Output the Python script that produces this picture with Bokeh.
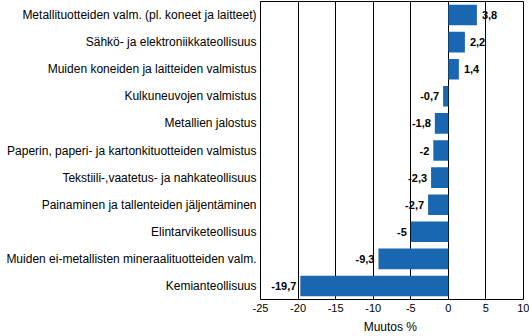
from bokeh.plotting import figure
from bokeh.models import ColumnDataSource, FactorRange, FixedTicker, Range1d
from bokeh.core.properties import value
from bokeh.embed import file_html
from bokeh.resources import INLINE

categories = [
    "Metallituotteiden valm. (pl. koneet ja laitteet)",
    "Sähkö- ja elektroniikkateollisuus",
    "Muiden koneiden ja laitteiden valmistus",
    "Kulkuneuvojen valmistus",
    "Metallien jalostus",
    "Paperin, paperi- ja kartonkituotteiden valmistus",
    "Tekstiili-,vaatetus- ja nahkateollisuus",
    "Painaminen ja tallenteiden jäljentäminen",
    "Elintarviketeollisuus",
    "Muiden ei-metallisten mineraalituotteiden valm.",
    "Kemianteollisuus",
]
values = [3.8, 2.2, 1.4, -0.7, -1.8, -2.0, -2.3, -2.7, -5.0, -9.3, -19.7]
x_ticks = [-25, -20, -15, -10, -5, 0, 5, 10]

def fmt(v):
    s = ("%.1f" % v).rstrip("0").rstrip(".")
    return s.replace(".", ",")

labels = [fmt(v) for v in values]
aligns = ["left" if v >= 0 else "right" for v in values]
offsets = [5 if v >= 0 else -4 for v in values]

src = ColumnDataSource(dict(cat=categories, val=values, lab=labels,
                            align=aligns, off=offsets))

p = figure(width=529, height=336, output_backend="svg", toolbar_location=None,
           y_range=FactorRange(*list(reversed(categories))),
           x_range=Range1d(-25, 10),
           min_border_left=260, min_border_right=6, min_border_top=1,
           min_border_bottom=34)

p.hbar(y="cat", left=0, right="val", height=0.76, source=src,
       fill_color="#1a67b1", line_color=None)

p.text(x="val", y="cat", text="lab", source=src, text_align="align",
       x_offset="off", text_baseline="middle", text_font=value("Liberation Sans"),
       text_font_style="bold", text_font_size="11px", text_color="black")

p.outline_line_color = "black"
p.outline_line_width = 1
p.xgrid.grid_line_color = "black"
p.xgrid.grid_line_width = 1
p.ygrid.grid_line_color = None
p.xaxis.ticker = FixedTicker(ticks=x_ticks)
p.xaxis.major_label_overrides = {t: str(t) for t in x_ticks}
p.xaxis.major_tick_line_color = None
p.xaxis.minor_tick_line_color = None
p.xaxis.major_tick_out = 0
p.xaxis.major_tick_in = 0
p.xaxis.minor_tick_out = 0
p.xaxis.axis_line_color = None
p.xaxis.major_label_standoff = 4
p.xaxis.major_label_text_font = "Liberation Sans"
p.xaxis.major_label_text_font_size = "11px"
p.xaxis.major_label_text_color = "black"
p.xaxis.axis_label = "Muutos  %"
p.xaxis.axis_label_text_font = "Liberation Sans"
p.xaxis.axis_label_text_font_size = "12px"
p.xaxis.axis_label_text_font_style = "normal"
p.xaxis.axis_label_text_color = "black"
p.xaxis.axis_label_standoff = 5

p.yaxis.major_tick_line_color = None
p.yaxis.minor_tick_line_color = None
p.yaxis.major_tick_out = 0
p.yaxis.major_tick_in = 0
p.yaxis.axis_line_color = "black"
p.yaxis.major_label_standoff = 4
p.yaxis.major_label_text_font = "Liberation Sans"
p.yaxis.major_label_text_font_size = "12px"
p.yaxis.major_label_text_color = "black"

open("out.html", "w").write(file_html(p, INLINE))
